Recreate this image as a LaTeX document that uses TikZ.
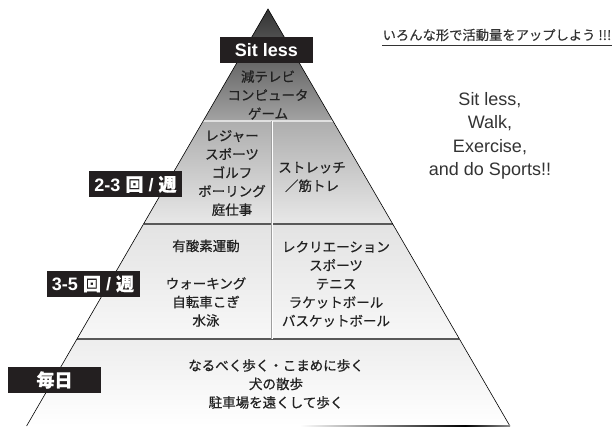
\documentclass[tikz,border=0pt]{standalone}
\usepackage{fontspec}
\setmainfont{Liberation Sans}
\newfontfamily\jp{Noto Sans CJK JP}[FakeBold=0.6]
\newfontfamily\jph{Noto Sans CJK JP}[FakeBold=0.3]
\usetikzlibrary{calc}
\definecolor{boxblack}{HTML}{231F20}
\definecolor{txt}{HTML}{222222}
\definecolor{etxt}{HTML}{333333}
\begin{document}
\begin{tikzpicture}[x=1pt,y=-1pt,
  jtxt/.style={font=\jp\fontsize{13.5}{18.5}\selectfont, align=center, inner sep=0pt, text=txt},
  tag/.style={fill=boxblack, text=white, inner sep=0pt, minimum height=26pt, minimum width=93pt},
  tagfont/.style={font=\bfseries\fontsize{18}{20}\selectfont},
  sepline/.style={draw=black!65, line width=1.1pt},
]
\useasboundingbox (0,0) rectangle (616,427);
\coordinate (A) at (268,9);
\coordinate (L1) at (203.2,121); \coordinate (R1) at (333.0,121);
\coordinate (L2) at (143.5,224); \coordinate (R2) at (392.7,224);
\coordinate (L3) at (76.9,339);  \coordinate (R3) at (459.4,339);
\coordinate (L4) at (26.6,426);  \coordinate (R4) at (509.9,426);
\coordinate (D1) at (272,121);   \coordinate (D2) at (272,339);
% layer fills
\shade[top color=black!80, bottom color=black!36] (A) -- (L1) -- (R1) -- cycle;
\shade[top color=black!32, bottom color=black!9] (L1) -- (L2) -- (R2) -- (R1) -- cycle;
\shade[top color=black!11, bottom color=black!3] (L2) -- (L3) -- (R3) -- (R2) -- cycle;
\shade[top color=black!7, middle color=white, bottom color=white] (L3) -- (L4) -- (R4) -- (R3) -- cycle;
% separators
\draw[black!12, line width=1.3pt] (L1) -- (R1);
\draw[sepline] (L2) -- (R2);
\draw[sepline] (L3) -- (R3);
\draw[black!38, line width=1.6pt] (D1) -- (D2);
\draw[white, line width=0.6pt] (D1) -- (D2);
% outline
\draw[black, line width=0.6pt] (L4) -- (A) -- (R4);
\shade[left color=white, right color=black] (300,425.2) rectangle (465,427);
\shade[left color=black, right color=black!45] (465,425.2) rectangle (510,427);
% tags
\node[tag, tagfont] (sitless) at (266.5,50) {Sit less};
\node[tag, tagfont] (w23) at (135.5,184.5) {2-3 {\jp 回} / {\jp 週}};
\node[tag, tagfont] (w35) at (93,284) {3-5 {\jp 回} / {\jp 週}};
\node[tag, tagfont] (daily) at (54.5,380) {\jp 毎日};
% pyramid texts
\node[jtxt] (t1) at (268,95) {減テレビ\\コンピュータ\\ゲーム};
\node[jtxt] (t2l) at (232,173) {レジャー\\スポーツ\\ゴルフ\\ボーリング\\庭仕事};
\node[jtxt] (t2r) at (312,177) {ストレッチ\\／筋トレ};
\node[jtxt] (t3a) at (206,246) {有酸素運動};
\node[jtxt] (t3b) at (206,302) {ウォーキング\\自転車こぎ\\水泳};
\node[jtxt] (t3r) at (336,284) {レクリエーション\\スポーツ\\テニス\\ラケットボール\\バスケットボール};
\node[jtxt] (t4) at (276,384) {なるべく歩く・こまめに歩く\\犬の散歩\\駐車場を遠くして歩く};
% right texts
\node[inner sep=0pt, text=etxt, font=\jph\fontsize{13.3}{15}\selectfont] (head) at (497,35) {いろんな形で活動量をアップしよう !!!};
\draw[etxt, line width=0.7pt] ([yshift=-4pt]head.south west) -- ([yshift=-4pt]head.south east);
\node[inner sep=0pt, text=etxt, align=center, font=\fontsize{18}{23.5}\selectfont] (slogan) at (490,136) {Sit less,\\Walk,\\Exercise,\\and do Sports!!};
\end{tikzpicture}
\end{document}
